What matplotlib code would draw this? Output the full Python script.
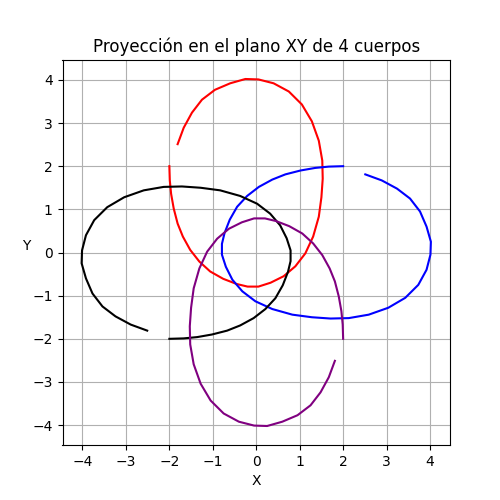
import matplotlib
matplotlib.use("Agg")
import matplotlib.pyplot as plt

# Trayectorias (proyección XY)
x_azul = [2.00, 1.67, 1.36, 1.02, 0.67, 0.37, 0.06, -0.21, -0.44, -0.61, -0.73, -0.79, -0.79, -0.70, -0.55,
          -0.32, -0.02, 0.37, 0.83, 1.28, 1.71, 2.13, 2.59, 3.04, 3.43, 3.73, 3.92, 4.01, 4.02, 3.92,
          3.77, 3.54, 3.24, 2.89, 2.51]
y_azul = [2.00, 1.99, 1.96, 1.90, 1.81, 1.69, 1.52, 1.31, 1.06, 0.76, 0.45, 0.20, -0.05, -0.33, -0.63,
          -0.90, -1.13, -1.31, -1.44, -1.50, -1.53, -1.52, -1.44, -1.28, -1.05, -0.75, -0.40, -0.05, 0.25, 0.60,
          0.95, 1.25, 1.48, 1.67, 1.81]

x_rojo = [-2.00, -1.99, -1.96, -1.90, -1.81, -1.69, -1.52, -1.31, -1.06, -0.76, -0.45, -0.20, 0.05, 0.33, 0.63,
          0.90, 1.13, 1.31, 1.44, 1.50, 1.53, 1.52, 1.44, 1.28, 1.05, 0.75, 0.40, 0.05, -0.25, -0.60,
          -0.95, -1.25, -1.48, -1.67, -1.81]
y_rojo = [2.00, 1.67, 1.36, 1.02, 0.67, 0.37, 0.06, -0.21, -0.44, -0.61, -0.73, -0.79, -0.79, -0.70, -0.55,
          -0.32, -0.02, 0.37, 0.83, 1.28, 1.71, 2.13, 2.59, 3.04, 3.43, 3.73, 3.92, 4.01, 4.02, 3.92,
          3.77, 3.54, 3.24, 2.89, 2.51]

x_negro = [-2.00, -1.67, -1.36, -1.02, -0.67, -0.37, -0.06, 0.21, 0.44, 0.61, 0.73, 0.79, 0.79, 0.70, 0.55,
           0.32, 0.02, -0.37, -0.83, -1.28, -1.71, -2.13, -2.59, -3.04, -3.43, -3.73, -3.92, -4.01, -4.02, -3.92,
           -3.77, -3.54, -3.24, -2.89, -2.51]
y_negro = [-2.00, -1.99, -1.96, -1.90, -1.81, -1.69, -1.52, -1.31, -1.06, -0.76, -0.45, -0.20, 0.05, 0.33, 0.63,
           0.90, 1.13, 1.31, 1.44, 1.50, 1.53, 1.52, 1.44, 1.28, 1.05, 0.75, 0.40, 0.05, -0.25, -0.60,
           -0.95, -1.25, -1.48, -1.67, -1.81]

x_morado = [2.00, 1.99, 1.96, 1.90, 1.81, 1.69, 1.52, 1.31, 1.06, 0.76, 0.45, 0.20, -0.05, -0.33, -0.63,
            -0.90, -1.13, -1.31, -1.44, -1.50, -1.53, -1.52, -1.44, -1.28, -1.05, -0.75, -0.40, -0.05, 0.25, 0.60,
            0.95, 1.25, 1.48, 1.67, 1.81]
y_morado = [-2.00, -1.67, -1.36, -1.02, -0.67, -0.37, -0.06, 0.21, 0.44, 0.61, 0.73, 0.79, 0.79, 0.70, 0.55,
            0.32, 0.02, -0.37, -0.83, -1.28, -1.71, -2.13, -2.59, -3.04, -3.43, -3.73, -3.92, -4.01, -4.02, -3.92,
            -3.77, -3.54, -3.24, -2.89, -2.51]

plt.figure(figsize=(5, 5), dpi=100)
plt.plot(x_rojo, y_rojo, color='red')
plt.plot(x_azul, y_azul, color='blue')
plt.plot(x_negro, y_negro, color='black')
plt.plot(x_morado, y_morado, color='purple')
plt.xlim(-4.46, 4.46)
plt.ylim(-4.46, 4.46)
plt.title('Proyección en el plano XY de 4 cuerpos')
plt.xlabel('X')
plt.ylabel('Y', rotation=0)
plt.grid(True)
plt.savefig('out.png')
